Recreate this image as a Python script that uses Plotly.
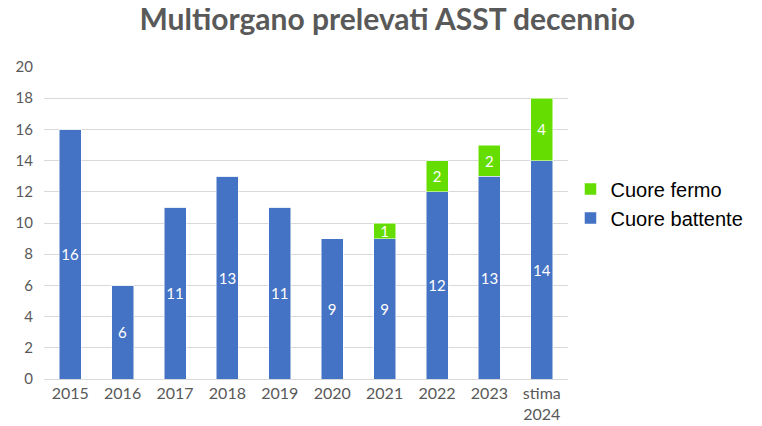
import plotly.graph_objects as go

# dati
anni = ["2015", "2016", "2017", "2018", "2019", "2020", "2021", "2022", "2023", "stima<br>2024"]
cuore_battente = [16, 6, 11, 13, 11, 9, 9, 12, 13, 14]
cuore_fermo = [0, 0, 0, 0, 0, 0, 1, 2, 2, 4]

blu = "#4472C4"
verde = "#66DD00"

fig = go.Figure()
fig.add_trace(go.Bar(
    x=anni, y=cuore_battente, name="Cuore battente",
    marker_color=blu, width=0.42,
    text=[str(v) for v in cuore_battente],
    textposition="inside", insidetextanchor="middle", textangle=0,
    textfont=dict(color="white", size=15, family="Lato"),
))
fig.add_trace(go.Bar(
    x=anni, y=cuore_fermo, name="Cuore fermo",
    marker_color=verde, width=0.42,
    text=[str(v) if v else "" for v in cuore_fermo],
    textposition="inside", insidetextanchor="middle", textangle=0,
    textfont=dict(color="white", size=15, family="Lato"),
))

# la pagina ha un margine di 8px attorno al grafico
fig.update_layout(
    width=754, height=418,
    barmode="stack",
    template="plotly_white",
    title=dict(text="<b>Multiorgano prelevati ASST decennio</b>",
               x=0.503, xanchor="center", y=1, yanchor="top",
               pad=dict(t=1, b=0),
               font=dict(family="Lato", size=30, color="#595959")),
    margin=dict(l=36, r=194, t=59, b=47),
    plot_bgcolor="white", paper_bgcolor="white",
    uniformtext=dict(minsize=15, mode="show"),
    legend=dict(xref="container", yref="container",
                x=0.746, y=(418 - 195.5) / 418, xanchor="left", yanchor="middle",
                traceorder="reversed",
                font=dict(family="Liberation Sans", size=20, color="#000000")),
    showlegend=True,
)
fig.update_xaxes(showline=True, linecolor="#d9d9d9", linewidth=1,
                 showgrid=False, ticks="", automargin=False,
                 tickfont=dict(family="Lato", size=16, color="#595959"))
fig.update_yaxes(range=[0, 20], dtick=2, showgrid=True, gridcolor="#d9d9d9",
                 zeroline=False, showline=False, ticks="", ticklabelstandoff=10,
                 automargin=False,
                 tickfont=dict(family="Lato", size=15, color="#595959"))

fig.write_html("out.html")
